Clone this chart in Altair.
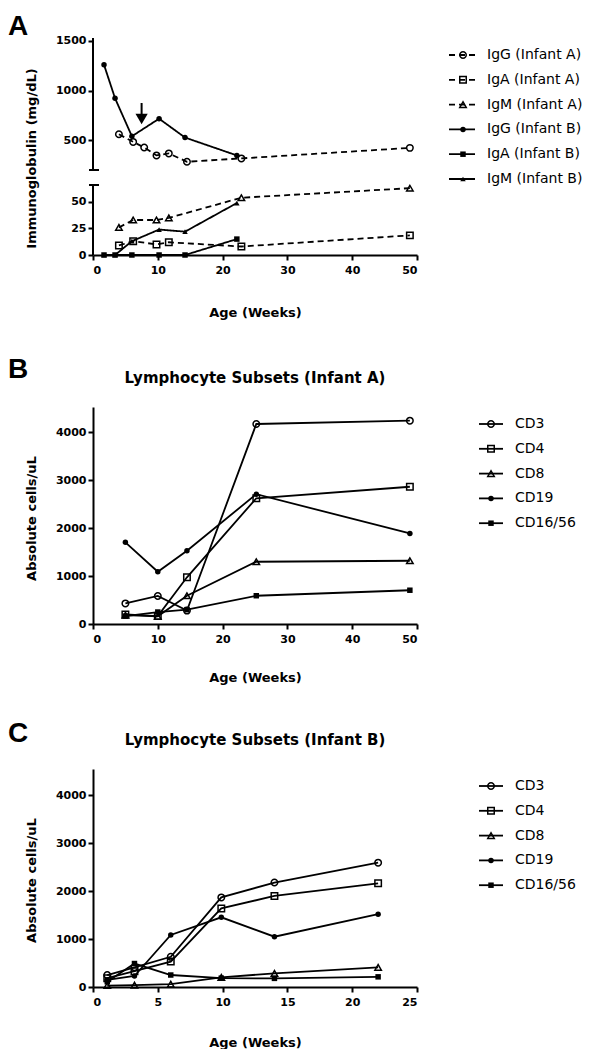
import altair as alt
import pandas as pd

FONT = "DejaVu Sans"
LETTER_FONT = "Liberation Sans"

# ---------------- Panel A: immunoglobulin levels ----------------
ig_series = ["IgG (Infant A)", "IgA (Infant A)", "IgM (Infant A)",
             "IgG (Infant B)", "IgA (Infant B)", "IgM (Infant B)"]
igg_a_weeks = [4.0, 6.2, 7.9, 9.8, 11.7, 14.5, 22.9, 48.9]
igg_a_values = [560, 483, 427, 347, 367, 283, 317, 423]
iga_a_weeks = [4.0, 6.2, 9.8, 11.7, 22.9, 48.9]
iga_a_values = [9, 13, 10, 12, 8, 18.5]
igm_a_weeks = [4.0, 6.2, 9.8, 11.7, 22.9, 48.9]
igm_a_values = [26, 33, 33, 35, 54, 63]
ig_b_weeks = [1.7, 3.4, 6.0, 10.2, 14.2, 22.2]
igg_b_values = [1260, 923, 540, 717, 527, 347]
iga_b_values = [0, 0, 0, 0, 0, 15]
igm_b_values = [0, 0, 13, 24, 22, 49]
arrow_week = [7.5]
arrow_top = [875]
arrow_head = [714]

# ---------------- Panels B / C: lymphocyte subsets ----------------
cd_series = ["CD3", "CD4", "CD8", "CD19", "CD16/56"]
lym_a_weeks = [5.0, 10.0, 14.5, 25.2, 48.9]
cd3_a = [430, 585, 280, 4175, 4245]
cd4_a = [200, 165, 975, 2625, 2865]
cd8_a = [185, 160, 590, 1300, 1320]
cd19_a = [1705, 1090, 1530, 2710, 1890]
cd1656_a = [165, 250, 300, 590, 705]

lym_b_weeks = [1.1, 3.2, 6.0, 9.9, 14.0, 22.0]
cd3_b = [250, 410, 630, 1870, 2180, 2595]
cd4_b = [185, 330, 530, 1640, 1900, 2165]
cd8_b = [30, 40, 60, 200, 285, 410]
cd19_b = [150, 230, 1085, 1455, 1050, 1520]
cd1656_b = [110, 490, 250, 185, 180, 212]


def long(name, weeks, values):
    return pd.DataFrame({"series": name, "week": weeks, "value": values})


dfA = pd.concat([
    long(ig_series[0], igg_a_weeks, igg_a_values),
    long(ig_series[1], iga_a_weeks, iga_a_values),
    long(ig_series[2], igm_a_weeks, igm_a_values),
    long(ig_series[3], ig_b_weeks, igg_b_values),
    long(ig_series[4], ig_b_weeks, iga_b_values),
    long(ig_series[5], ig_b_weeks, igm_b_values),
], ignore_index=True)

dfB = pd.concat([long(s, lym_a_weeks, v) for s, v in
                 zip(cd_series, [cd3_a, cd4_a, cd8_a, cd19_a, cd1656_a])], ignore_index=True)
dfC = pd.concat([long(s, lym_b_weeks, v) for s, v in
                 zip(cd_series, [cd3_b, cd4_b, cd8_b, cd19_b, cd1656_b])], ignore_index=True)

PLOT_W = 324


def panel(df, series, open_series, shapes, x_dom, x_vals, y_scale, y_vals, y_title,
          height, xtitle_y, ytitle_y, letter, letter_y, title=None, dashes=None,
          leg=(386, 410, 398, 422), extra=None, x_offset=0, y_domain_line=True):
    shape_enc = alt.Shape("series:N", scale=alt.Scale(domain=series, range=shapes), legend=None)
    x_enc = alt.X("week:Q", scale=alt.Scale(domain=x_dom, nice=False, zero=False),
                  axis=alt.Axis(values=x_vals, title="Age (Weeks)", titleX=PLOT_W / 2,
                                titleY=xtitle_y, titleBaseline="middle", labelPadding=4,
                                offset=x_offset, format="d"))
    y_enc = alt.Y("value:Q", scale=y_scale,
                  axis=alt.Axis(values=y_vals, title=y_title, titleX=-62, titleY=ytitle_y,
                                titleBaseline="middle", titleAlign="center", labelPadding=2,
                                format="d", domain=y_domain_line))
    base = alt.Chart(df)
    line_enc = dict(x=x_enc, y=y_enc)
    if dashes:
        dash_enc = alt.StrokeDash("series:N", scale=alt.Scale(domain=series, range=dashes), legend=None)
        line_enc["strokeDash"] = dash_enc
    else:
        dash_enc = None
        line_enc["detail"] = "series:N"
    layers = [base.mark_line(color="black", strokeWidth=1.8).encode(**line_enc)]
    if extra:
        layers += extra
    filled_series = [s for s in series if s not in open_series]
    layers.append(base.transform_filter(alt.FieldOneOfPredicate(field="series", oneOf=open_series))
                  .mark_point(filled=False, color="black", strokeWidth=1.5, size=42, opacity=1)
                  .encode(x="week:Q", y="value:Q", shape=shape_enc))
    layers.append(base.transform_filter(alt.FieldOneOfPredicate(field="series", oneOf=filled_series))
                  .mark_point(filled=True, color="black", size=30, opacity=1)
                  .encode(x="week:Q", y="value:Q", shape=shape_enc))

    # custom legend (line + marker + label)
    lg = alt.Chart(pd.DataFrame({"series": series, "idx": list(range(len(series)))})) \
        .transform_calculate(ly="17 + 24.8 * datum.idx")
    ly = alt.Y("ly:Q", scale=None)
    rule_enc = dict(x=alt.value(leg[0]), x2=alt.value(leg[1]), y=ly)
    if dash_enc is not None:
        rule_enc["strokeDash"] = dash_enc
    layers.append(lg.mark_rule(color="black", strokeWidth=1.8).encode(**rule_enc))
    layers.append(lg.transform_filter(alt.FieldOneOfPredicate(field="series", oneOf=open_series))
                  .mark_point(filled=False, color="black", strokeWidth=1.5, size=42, opacity=1)
                  .encode(x=alt.value(leg[2]), y=ly, shape=shape_enc))
    layers.append(lg.transform_filter(alt.FieldOneOfPredicate(field="series", oneOf=filled_series))
                  .mark_point(filled=True, color="black", size=30, opacity=1)
                  .encode(x=alt.value(leg[2]), y=ly, shape=shape_enc))
    layers.append(lg.mark_text(align="left", baseline="middle", font=FONT, fontSize=14, color="black")
                  .encode(x=alt.value(leg[3]), y=ly, text="series:N"))

    # panel letter and panel title
    layers.append(alt.Chart(pd.DataFrame({"t": [letter]}))
                  .mark_text(align="left", baseline="alphabetic", font=LETTER_FONT, fontWeight="bold",
                             fontSize=28, color="black")
                  .encode(x=alt.value(-85), y=alt.value(letter_y), text="t:N"))
    if title:
        layers.append(alt.Chart(pd.DataFrame({"t": [title]}))
                      .mark_text(align="center", baseline="middle", font=FONT, fontWeight="bold",
                                 fontSize=15, color="black")
                      .encode(x=alt.value(PLOT_W / 2), y=alt.value(-29), text="t:N"))
    return alt.layer(*layers).properties(width=PLOT_W, height=height)


# ---- Panel A: broken y axis via a piecewise scale ----
yA = alt.Scale(domain=[0, 66, 200, 1530], range=[217, 147, 132, 0], nice=False, zero=False)
axis_segments = pd.DataFrame({"lo": [0, 200], "hi": [66, 1530]})
break_marks = pd.DataFrame({"yb": [66, 200]})
arrow_df = pd.DataFrame({"week": arrow_week, "top": arrow_top, "head": arrow_head})

extraA = [
    alt.Chart(axis_segments).mark_rule(color="black", strokeWidth=2).encode(
        x=alt.value(0), y=alt.Y("lo:Q", scale=yA), y2="hi:Q"),
    alt.Chart(break_marks).mark_rule(color="black", strokeWidth=2).encode(
        x=alt.value(-4), x2=alt.value(6), y=alt.Y("yb:Q", scale=yA)),
    alt.Chart(arrow_df).mark_rule(color="black", strokeWidth=2).encode(
        x=alt.X("week:Q"), y=alt.Y("top:Q", scale=yA), y2="head:Q"),
    alt.Chart(arrow_df).mark_point(shape="triangle-down", filled=True, color="black", size=150, opacity=1).encode(
        x=alt.X("week:Q"), y=alt.Y("head:Q", scale=yA)),
    # invisible spacer keeping the top margin above panel A
    alt.Chart(pd.DataFrame({"s": [0]})).mark_rule(opacity=0).encode(
        x=alt.value(0), x2=alt.value(1), y=alt.value(-30)),
]

dash_A = [[6, 4], [6, 4], [6, 4], [1, 0], [1, 0], [1, 0]]
rowA = panel(dfA, ig_series, ig_series[:3],
             ["circle", "square", "triangle-up", "circle", "square", "triangle-up"],
             [0, 50], [0, 10, 20, 30, 40, 50], yA, [0, 25, 50, 500, 1000, 1500],
             "Immunoglobulin (mg/dL)", 224, 57, 120, "A", -3, title=None, dashes=dash_A,
             leg=(356, 382, 370, 394), extra=extraA, x_offset=-7, y_domain_line=False)

cd_shapes = ["circle", "square", "triangle-up", "circle", "square"]
rowB = panel(dfB, cd_series, cd_series[:3], cd_shapes, [0, 50], [0, 10, 20, 30, 40, 50],
             alt.Scale(domain=[0, 4530], nice=False), [0, 1000, 2000, 3000, 4000],
             "Absolute cells/uL", 217, 53, 111, "B", -29,
             title="Lymphocyte Subsets (Infant A)")
rowC = panel(dfC, cd_series, cd_series[:3], cd_shapes, [0, 25], [0, 5, 10, 15, 20, 25],
             alt.Scale(domain=[0, 4550], nice=False), [0, 1000, 2000, 3000, 4000],
             "Absolute cells/uL", 218, 55, 111, "C", -27,
             title="Lymphocyte Subsets (Infant B)")

chart = alt.vconcat(rowA, rowB, rowC, spacing=145, bounds="flush").properties(
    padding=0
).configure_view(stroke=None).configure_axis(
    domainColor="black", domainWidth=2, tickColor="black", tickWidth=2, tickSize=5,
    labelColor="black", labelFont=FONT, labelFontWeight="bold", labelFontSize=11,
    titleColor="black", titleFont=FONT, titleFontWeight="bold", titleFontSize=13,
    grid=False,
)

chart.save("out.html", embed_options={"renderer": "svg", "actions": False})
